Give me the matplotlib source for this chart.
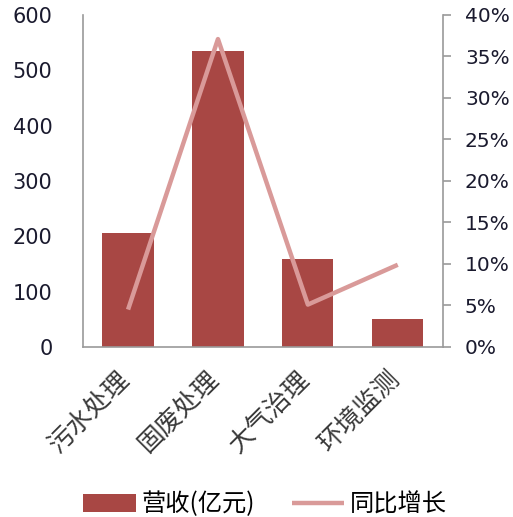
import matplotlib.pyplot as plt
import matplotlib.transforms as mtransforms
from matplotlib.ticker import FuncFormatter

plt.rcParams['font.family'] = ['Noto Sans CJK SC', 'DejaVu Sans']

# data
categories = ['污水处理', '固废处理', '大气治理', '环境监测']
revenue = [206, 535, 159, 50]          # 营收(亿元)
growth = [4.5, 37.1, 5.1, 9.9]         # 同比增长 (%)

bar_color = '#A84744'
line_color = '#D99A99'
tick_color = '#1a1a2e'
spine_color = '#9a9a9a'

fig = plt.figure(figsize=(5.13, 5.17), dpi=100)
ax = fig.add_axes([0.162, 0.329, 0.701, 0.642])
ax2 = ax.twinx()

x = list(range(len(categories)))
b = ax.bar(x, revenue, width=0.57, color=bar_color, label='营收(亿元)', zorder=2)
l, = ax2.plot(x, growth, color=line_color, lw=3.2, solid_capstyle='butt',
              label='同比增长', zorder=3)

ax.set_xlim(-0.5, len(categories) - 0.5)
ax.set_ylim(0, 600)
ax.set_yticks(range(0, 601, 100))
ax2.set_ylim(0, 40)
ax2.set_yticks(range(0, 41, 5))
ax2.yaxis.set_major_formatter(FuncFormatter(lambda v, p: f'{int(v)}%'))

for a in (ax, ax2):
    a.spines['top'].set_visible(False)
    for s in ('left', 'right', 'bottom'):
        a.spines[s].set_color(spine_color)
        a.spines[s].set_linewidth(1.2)
ax.spines['right'].set_visible(False)
ax2.spines['left'].set_visible(False)
ax2.spines['bottom'].set_visible(False)

ax.tick_params(axis='y', length=0, pad=22, labelsize=15, labelcolor=tick_color)
ax.tick_params(axis='x', length=0, pad=14)
ax2.tick_params(axis='y', length=6, width=1.2, color=spine_color, pad=10,
                labelsize=14.5, labelcolor=tick_color)
for t in ax.get_yticklabels() + ax2.get_yticklabels():
    t.set_family('DejaVu Sans')

ax.set_xticks(x)
ax.set_xticklabels(categories, rotation=45, ha='right', rotation_mode='anchor',
                   fontsize=18.5, color='#3a3a3a')
# nudge the rotated labels a little to the left
shift = mtransforms.ScaledTranslation(-8 / 72, 0, fig.dpi_scale_trans)
for t in ax.get_xticklabels():
    t.set_transform(t.get_transform() + shift)

ax2.set_zorder(ax.get_zorder() + 1)
ax.patch.set_visible(False)

fig.legend([b, l], ['营收(亿元)', '同比增长'], loc='lower center',
           bbox_to_anchor=(0.517, -0.043), ncol=2, frameon=False, fontsize=17.5,
           handlelength=2.15, handleheight=0.72, columnspacing=1.5,
           handletextpad=0.25)

fig.savefig('out.png', dpi=100)
